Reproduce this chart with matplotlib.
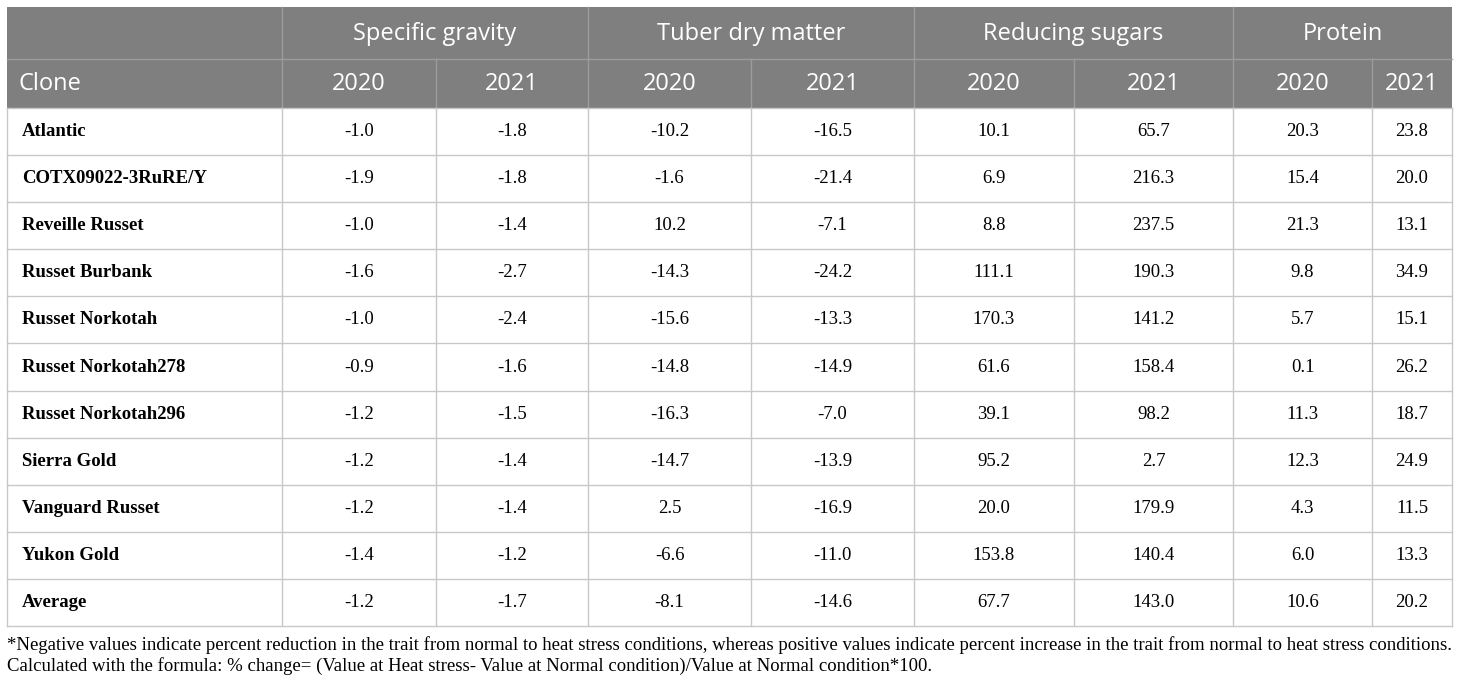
import matplotlib.pyplot as plt
from matplotlib.patches import Rectangle

# table content
groups = ['Specific gravity', 'Tuber dry matter', 'Reducing sugars', 'Protein']
years = ['2020', '2021']
clones = ['Atlantic', 'COTX09022-3RuRE/Y', 'Reveille Russet', 'Russet Burbank',
          'Russet Norkotah', 'Russet Norkotah278', 'Russet Norkotah296',
          'Sierra Gold', 'Vanguard Russet', 'Yukon Gold', 'Average']
specific_gravity = [[-1.0, -1.8], [-1.9, -1.8], [-1.0, -1.4], [-1.6, -2.7],
                    [-1.0, -2.4], [-0.9, -1.6], [-1.2, -1.5], [-1.2, -1.4],
                    [-1.2, -1.4], [-1.4, -1.2], [-1.2, -1.7]]
dry_matter = [[-10.2, -16.5], [-1.6, -21.4], [10.2, -7.1], [-14.3, -24.2],
              [-15.6, -13.3], [-14.8, -14.9], [-16.3, -7.0], [-14.7, -13.9],
              [2.5, -16.9], [-6.6, -11.0], [-8.1, -14.6]]
reducing_sugars = [[10.1, 65.7], [6.9, 216.3], [8.8, 237.5], [111.1, 190.3],
                   [170.3, 141.2], [61.6, 158.4], [39.1, 98.2], [95.2, 2.7],
                   [20.0, 179.9], [153.8, 140.4], [67.7, 143.0]]
protein = [[20.3, 23.8], [15.4, 20.0], [21.3, 13.1], [9.8, 34.9],
           [5.7, 15.1], [0.1, 26.2], [11.3, 18.7], [12.3, 24.9],
           [4.3, 11.5], [6.0, 13.3], [10.6, 20.2]]
footnote = [
    "*Negative values indicate percent reduction in the trait from normal to heat stress "
    "conditions, whereas positive values indicate percent increase in the trait from normal "
    "to heat stress conditions.",
    "Calculated with the formula: % change= (Value at Heat stress- Value at Normal "
    "condition)/Value at Normal condition*100.",
]

# layout in pixels
col_edges = [7, 282, 436, 588, 751, 914, 1074, 1233, 1372, 1452]
top = 7
head1_bot = 59
head2_bot = 108
row_h = (626 - head2_bot) / len(clones)

header_bg = '#7f7f7f'
header_line = '#9c9c9c'
body_line = '#c8c8c8'
serif = 'Liberation Serif'
sans = 'Open Sans'
head_size = 17
body_size = 13.5

fig = plt.figure(figsize=(14.6, 6.86), dpi=100)
ax = fig.add_axes([0, 0, 1, 1])
ax.set_xlim(0, 1460)
ax.set_ylim(686, 0)
ax.axis('off')

# header background
ax.add_patch(Rectangle((col_edges[0], top), col_edges[-1] - col_edges[0],
                       head2_bot - top, facecolor=header_bg, edgecolor='none'))
ax.plot([col_edges[0], col_edges[-1]], [head1_bot, head1_bot], color=header_line, lw=1)
for x in col_edges[1:-1:2]:
    ax.plot([x, x], [top, head2_bot], color=header_line, lw=1)
for x in col_edges[2:-1:2]:
    ax.plot([x, x], [head1_bot, head2_bot], color=header_line, lw=1)

# header text
for g, name in enumerate(groups):
    x0, x1 = col_edges[1 + 2 * g], col_edges[3 + 2 * g]
    ax.text((x0 + x1) / 2, (top + head1_bot) / 2 + 1, name, ha='center', va='center',
            color='white', fontsize=head_size, family=sans)
ax.text(19, (head1_bot + head2_bot) / 2 + 1, 'Clone', ha='left', va='center',
        color='white', fontsize=head_size, family=sans)
for c in range(8):
    x0, x1 = col_edges[1 + c], col_edges[2 + c]
    ax.text((x0 + x1) / 2, (head1_bot + head2_bot) / 2 + 1, years[c % 2], ha='center',
            va='center', color='white', fontsize=head_size, family=sans)

# body
bottom = head2_bot + row_h * len(clones)
for i in range(len(clones) + 1):
    y = head2_bot + i * row_h
    ax.plot([col_edges[0], col_edges[-1]], [y, y], color=body_line, lw=1)
for x in col_edges:
    ax.plot([x, x], [head2_bot, bottom], color=body_line, lw=1)

for i, clone in enumerate(clones):
    yc = head2_bot + (i + 0.5) * row_h
    ax.text(22, yc, clone, ha='left', va='center', fontsize=body_size,
            family=serif, fontweight='bold')
    values = specific_gravity[i] + dry_matter[i] + reducing_sugars[i] + protein[i]
    for c, v in enumerate(values):
        x0, x1 = col_edges[1 + c], col_edges[2 + c]
        ax.text((x0 + x1) / 2, yc, f'{v:.1f}', ha='center', va='center',
                fontsize=body_size, family=serif)

# footnote
for k, line in enumerate(footnote):
    ax.text(7, 645 + k * 21.5, line, ha='left', va='center', fontsize=13.5, family=serif)

fig.savefig('out.png', dpi=100)
